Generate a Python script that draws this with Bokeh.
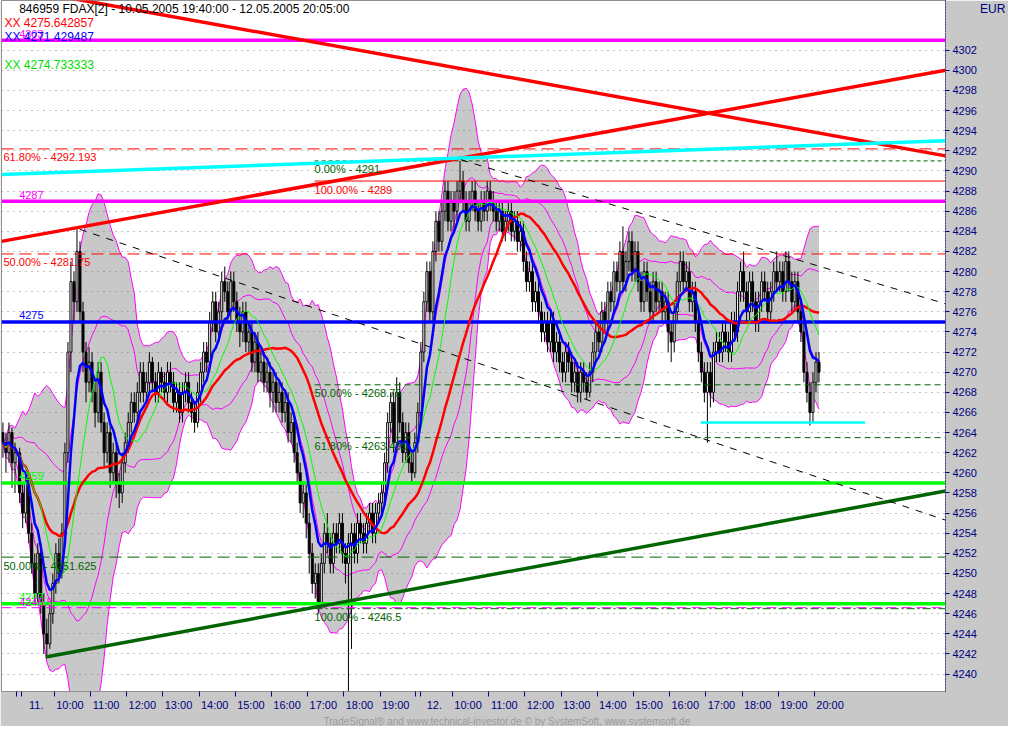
import json
import pandas as pd
from bokeh.plotting import figure
from bokeh.models import (ColumnDataSource, Label, FixedTicker, LinearAxis, Range1d,
                          Title, CustomJSTickFormatter)
from bokeh.embed import file_html
from bokeh.resources import INLINE

FONT = "Liberation Sans"
NAVY = "#000080"
DKGREEN = "#006400"

# ---------------- data (5-minute bars) ----------------
day10_close = [4263, 4262, 4264, 4261, 4262]
day10_high = [4265, 4264, 4265, 4264.5, 4263]
day10_low = [4261.5, 4260, 4261, 4258.5, 4258]
first_open = 4264

day11_close = [
    4258, 4256, 4259, 4254, 4251, 4248, 4252, 4247, 4244, 4243, 4246, 4249,
    4252, 4250, 4254, 4262, 4272, 4279, 4277, 4282, 4276, 4272, 4269, 4271,
    4268, 4266, 4270, 4265, 4262, 4264, 4260, 4262, 4259, 4258, 4261, 4263,
    4265, 4267, 4266, 4268, 4270, 4268, 4269, 4271, 4269, 4268, 4270, 4269,
    4268, 4270, 4269, 4267, 4268, 4266, 4268, 4269, 4267, 4266, 4265, 4268,
    4270, 4272, 4271, 4275, 4277, 4274, 4276, 4279, 4278, 4276, 4279, 4277,
    4275, 4274, 4276, 4273, 4274, 4271, 4273, 4270, 4271, 4269, 4270, 4268,
    4269, 4267, 4268, 4266, 4267, 4264, 4265, 4262, 4260, 4257, 4258, 4255,
    4252, 4249, 4250, 4247, 4251, 4254, 4253, 4251, 4254, 4253, 4255, 4252,
    4251, 4253, 4254, 4252, 4255, 4254, 4253, 4255, 4256, 4254, 4256, 4257,
    4258, 4261, 4265, 4267, 4263, 4268, 4265, 4262, 4264, 4261, 4260, 4263,
]
day11_high = [
    4262.5, 4259, 4260, 4259.5, 4255, 4252, 4253, 4253, 4248, 4245.5, 4247, 4250,
    4253, 4253.5, 4255, 4263, 4273, 4281, 4280, 4284.2, 4283, 4277, 4273, 4272.5,
    4272, 4269, 4271, 4271, 4266, 4265, 4265, 4263, 4263, 4260, 4262, 4264,
    4266, 4268, 4268, 4269, 4271, 4271, 4270, 4272, 4271.5, 4270, 4271, 4270.5,
    4270, 4271, 4271, 4270, 4269, 4269, 4269, 4270, 4270, 4268, 4267, 4269,
    4271, 4273, 4273, 4276, 4278, 4278, 4277, 4280, 4280.5, 4279, 4280, 4280,
    4278, 4276.5, 4277, 4277, 4275, 4275, 4274, 4274, 4272, 4272, 4271, 4271,
    4270, 4270, 4269, 4269, 4268, 4268, 4266, 4266, 4263, 4261, 4259, 4259,
    4256, 4253, 4251, 4251, 4252, 4255, 4256, 4254, 4255, 4255, 4256, 4256,
    4253, 4254, 4255, 4255, 4256, 4256, 4255, 4256, 4257, 4257, 4257, 4258,
    4259, 4262, 4266, 4268, 4268, 4269.5, 4269, 4266, 4265, 4265, 4262, 4264,
]
day11_low = [
    4257, 4254.5, 4255, 4253, 4250, 4247, 4247, 4246, 4242, 4241.7, 4242.5, 4245,
    4248, 4249, 4249.5, 4253, 4261, 4270, 4275, 4276, 4275, 4270, 4267, 4268,
    4267, 4264.5, 4265, 4264, 4260.5, 4261, 4258.5, 4259, 4257.5, 4256.5, 4257, 4260,
    4262, 4264, 4265, 4265, 4267, 4267, 4267, 4268, 4268, 4267, 4267, 4268,
    4267, 4267, 4268, 4266, 4266, 4265, 4265, 4267, 4266, 4265, 4264, 4264.5,
    4267, 4269, 4270, 4270, 4274, 4273, 4273, 4275, 4277, 4275, 4275, 4276,
    4274, 4272.5, 4273, 4272, 4272, 4270, 4270, 4269, 4269, 4268, 4268, 4266.5,
    4266, 4266, 4266, 4265, 4265, 4263, 4263, 4261, 4259, 4256, 4255.5, 4253.5,
    4250, 4248, 4247.5, 4246, 4246.5, 4250, 4252, 4250, 4250, 4252, 4252, 4251,
    4249, 4238.3, 4242.5, 4251, 4251, 4253, 4252, 4252, 4254, 4253, 4253, 4255,
    4256, 4257, 4260, 4264, 4262, 4262, 4264, 4261, 4261, 4260, 4259, 4259.5,
]
day12_close = [
    4266, 4272, 4277, 4280, 4276, 4282, 4285, 4283, 4286, 4288, 4285, 4287,
    4286, 4288, 4289, 4287, 4285, 4287, 4288, 4286, 4285, 4287, 4286, 4288,
    4287, 4286, 4285, 4286, 4284, 4285, 4286, 4284, 4285, 4283, 4284, 4281,
    4279, 4280, 4277, 4278, 4276, 4274, 4275, 4273, 4275, 4272, 4273, 4271,
    4270, 4272, 4271, 4269, 4270, 4268, 4270, 4269, 4268, 4270, 4272, 4274,
    4273, 4276, 4275, 4278, 4277, 4280, 4279, 4282, 4279, 4281, 4283, 4280,
    4282, 4279, 4277, 4280, 4278, 4276, 4279, 4277, 4278, 4276, 4277, 4274,
    4273, 4276, 4279, 4281, 4279, 4280, 4277, 4278, 4275, 4272, 4270, 4268,
    4270, 4268, 4272, 4273, 4272, 4274, 4273, 4272, 4275, 4274, 4278, 4280,
    4278, 4276, 4279, 4277, 4275, 4277, 4279, 4278, 4276, 4278, 4280, 4279,
    4280, 4278, 4281, 4279, 4277, 4279, 4276, 4274, 4270, 4268, 4266, 4269,
    4271, 4270,
]
day12_high = [
    4267, 4273, 4278, 4281, 4281, 4283, 4286, 4286, 4287, 4289, 4289, 4288,
    4288, 4289, 4291, 4290, 4288, 4288, 4289, 4289, 4287, 4288, 4288, 4289,
    4289, 4288, 4287, 4287, 4287, 4286, 4287, 4287, 4286, 4286, 4285, 4285,
    4282, 4281, 4281, 4279, 4279, 4277, 4276, 4276, 4276, 4276, 4274, 4274,
    4272, 4273, 4273, 4272, 4271, 4271, 4271, 4271, 4270, 4271, 4273, 4275,
    4275, 4277, 4277, 4279, 4279, 4281, 4281, 4283, 4284.5, 4282, 4284, 4284,
    4283, 4283, 4280, 4281, 4281, 4279, 4280, 4280, 4279, 4279, 4278, 4278,
    4275, 4277, 4280, 4282, 4282, 4281, 4281, 4279, 4279, 4276, 4273, 4271,
    4271, 4271, 4273, 4274, 4274, 4275, 4275, 4274, 4276, 4276, 4279, 4281,
    4282, 4279, 4280, 4280, 4278, 4278, 4280, 4280, 4279, 4279, 4281, 4282,
    4281, 4281, 4282, 4282, 4280, 4280, 4280, 4277, 4275, 4271, 4269, 4270,
    4272, 4272,
]
day12_low = [
    4262, 4265, 4271, 4276, 4275, 4275, 4281, 4282, 4282, 4285, 4284, 4284,
    4284, 4285, 4287, 4286, 4284, 4284, 4286, 4285, 4284, 4284, 4285, 4285,
    4286, 4285, 4284, 4284, 4283, 4283, 4284, 4283, 4283, 4282, 4282, 4280,
    4278, 4278, 4276, 4276, 4275, 4273, 4273, 4272, 4272, 4271, 4271, 4270,
    4269, 4269, 4270, 4268, 4268, 4267, 4267, 4268, 4267.3, 4267.5, 4269, 4271,
    4272, 4272, 4274, 4274, 4276, 4276, 4278, 4278, 4278, 4278, 4280, 4279,
    4279, 4278, 4276, 4276, 4277, 4275, 4275, 4276, 4276, 4275, 4275, 4272,
    4271, 4272, 4275, 4278, 4278, 4278, 4276, 4276, 4274, 4271, 4269, 4267,
    4263, 4266.5, 4267, 4271, 4271, 4271, 4272, 4271, 4271, 4273, 4273, 4277,
    4277, 4275, 4275, 4276, 4274, 4274, 4276, 4277, 4275, 4275, 4277, 4278,
    4278, 4277, 4277, 4278, 4276, 4276, 4275, 4273, 4269, 4267, 4264.7, 4265,
    4268, 4269,
]

# horizontal levels
hline_vals = [4303, 4287, 4275, 4259, 4247]
hline_colors = ["#ff00ff", "#ff00ff", "#0000ff", "#00ff00", "#00ff00"]
hline_texts = ["4303", "4287", "4275", "4259", "4247"]
support_val = 4265

# fibonacci levels
fib_vals = [4292.193, 4281.75, 4291, 4289, 4268.75, 4263.499, 4251.625, 4246.5]
fib_texts = ["61.80% - 4292.193", "50.00% - 4281.75", "0.00% - 4291", "100.00% - 4289",
             "50.00% - 4268.75", "61.80% - 4263.499", "50.00% - 4251.625", "100.00% - 4246.5"]
fib_start = [-0.46, -0.46, 8.19, 8.19, 8.19, 8.19, -0.46, 8.19]

# trend lines (x in session hours, y in price)
tl_x0 = [-0.46, -0.46, -0.46, 0.76, 1.70, 12.24]
tl_y0 = [4283.0, 4308.4, 4289.65, 4241.7, 4284.2, 4291.1]
tl_x1 = [25.62, 25.62, 25.62, 25.62, 25.62, 25.62]
tl_y1 = [4300.0, 4291.5, 4293.0, 4258.2, 4255.3, 4276.8]

# legend values
legend_vals = ["XX 4275.642857", "XX 4271.429487", "XX 4274.733333"]

# x axis
hour_ticks = [-0.05, 0.08, 1, 2, 3, 4, 5, 6, 7, 8, 9, 10, 10.97, 11.11,
              12, 13, 14, 15, 16, 17, 18, 19, 20, 21, 22]
hour_labels = ["11.", "10:00", "11:00", "12:00", "13:00", "14:00", "15:00", "16:00",
               "17:00", "18:00", "19:00", "12.", "10:00", "11:00", "12:00", "13:00",
               "14:00", "15:00", "16:00", "17:00", "18:00", "19:00", "20:00"]
hour_label_pos = [0.5] + [h + 0.43 for h in range(1, 11)] + [11.5] + [h + 0.43 for h in range(12, 23)]

# ---------------- derived ----------------
closes = day10_close + day11_close + day12_close
highs = day10_high + day11_high + day12_high
lows = day10_low + day11_low + day12_low
xs = ([-0.42 + i / 12 for i in range(len(day10_close))]
      + [i / 12 + 1 / 24 for i in range(len(day11_close))]
      + [11 + i / 12 + 1 / 24 for i in range(len(day12_close))])
opens = [first_open] + closes[:-1]
up = [c >= o for o, c in zip(opens, closes)]

s = pd.Series(closes, dtype=float)
blue = s.ewm(span=8, adjust=False).mean()
green = s.rolling(13, min_periods=1).mean()
red = s.rolling(30, min_periods=1).mean()
mid = s.rolling(20, min_periods=1).mean()
sd = s.rolling(20, min_periods=1).std(ddof=0).fillna(0)

src = ColumnDataSource(dict(
    x=xs, open=opens, close=closes, high=highs, low=lows,
    top=[max(o, c) for o, c in zip(opens, closes)],
    bottom=[min(o, c) for o, c in zip(opens, closes)],
    fill=["white" if u else "black" for u in up],
    blue=blue, green=green, red=red,
    upper=mid + 2 * sd, lower=mid - 2 * sd,
    iup=mid + 1 * sd, ilo=mid - 1 * sd,
))

X0, X1 = -0.46, 25.62
Y0, Y1 = 4238.27, 4306.94


def px(xp):
    return (xp - 17) / 37.0


def py(yp):
    return 4302 - (yp - 50) / 10.12


p = figure(width=1008, height=726, x_range=Range1d(X0, X1), y_range=Range1d(Y0, Y1),
           output_backend="svg", toolbar_location=None, y_axis_location="right",
           x_axis_location=None)
p.min_border_top = 0
p.min_border_left = 1
p.min_border_right = 58
p.background_fill_color = "white"
p.border_fill_color = "#c8c8c8"
p.outline_line_color = "#909090"

# y axis
yt = FixedTicker(ticks=list(range(4240, 4304, 2)))
ya = p.yaxis[0]
ya.ticker = yt
ya.axis_line_dash = "1 2"
ya.axis_line_color = NAVY
ya.major_tick_out = 4
ya.major_tick_in = 0
ya.minor_tick_line_color = None
ya.major_tick_line_color = NAVY
ya.major_label_text_color = NAVY
ya.major_label_text_font = FONT
ya.major_label_text_font_size = "11px"
ya.major_label_standoff = 3
ya.axis_label = "\nEUR"
ya.axis_label_orientation = "horizontal"
ya.axis_label_align = "end"
ya.axis_label_standoff = 0
ya.axis_label_text_color = NAVY
ya.axis_label_text_font = FONT
ya.axis_label_text_font_size = "12px"
ya.axis_label_text_font_style = "normal"
p.ygrid.ticker = yt
p.ygrid.grid_line_color = "#808080"
p.ygrid.grid_line_dash = "1 5"
p.xgrid.visible = False

# x axes: ticks only, then labels
ax_t = LinearAxis(ticker=FixedTicker(ticks=hour_ticks),
                  formatter=CustomJSTickFormatter(code="return '';"))
ax_t.major_tick_out = 5
ax_t.major_tick_in = 0
ax_t.minor_tick_line_color = None
ax_t.major_tick_line_color = NAVY
ax_t.axis_line_color = "#909090"
ax_t.major_label_standoff = 0
ax_t.major_label_text_font_size = "1px"
p.add_layout(ax_t, "below")

lab_map = {str(round(v * 100)): t for v, t in zip(hour_label_pos, hour_labels)}
ax_l = LinearAxis(ticker=FixedTicker(ticks=hour_label_pos),
                  formatter=CustomJSTickFormatter(
                      code="const m = %s; const k = String(Math.round(tick*100)); return (k in m) ? m[k] : '';"
                      % json.dumps(lab_map)))
ax_l.major_tick_out = 0
ax_l.major_tick_in = 0
ax_l.minor_tick_line_color = None
ax_l.major_tick_line_color = None
ax_l.axis_line_color = None
ax_l.major_label_text_color = NAVY
ax_l.major_label_text_font = FONT
ax_l.major_label_text_font_size = "11px"
ax_l.major_label_standoff = 2
p.add_layout(ax_l, "below")

p.add_layout(Title(text="TradeSignal\u00ae and www.technical-investor.de \u00a9 by  SystemSoft, www.systemsoft.de",
                   align="left", offset=322, text_color="#9a9a9a", text_font=FONT,
                   text_font_size="10px", text_font_style="normal", standoff=0), "below")

# bollinger band
band = p.varea(x="x", y1="lower", y2="upper", source=src, fill_color="#c8c8c8")
band.level = "image"
p.line("x", "upper", source=src, line_color="#ff00ff", line_width=1)
p.line("x", "lower", source=src, line_color="#ff00ff", line_width=1)
p.line("x", "iup", source=src, line_color="#ff00ff", line_width=1)
p.line("x", "ilo", source=src, line_color="#ff00ff", line_width=1)

# candles
p.segment(x0="x", y0="low", x1="x", y1="high", source=src, line_color="black", line_width=1)
p.vbar(x="x", width=0.055, top="top", bottom="bottom", source=src,
       fill_color="fill", line_color="black", line_width=1)

# fib lines
fib_colors = ["#ff0000", "#ff0000", DKGREEN, "#ff0000", DKGREEN, DKGREEN, DKGREEN, DKGREEN]
fib_dash = ["12 6", "12 6", "4 3", "solid", "6 4", "6 4", "12 6", "8 3 2 3"]
for v, st, col, dsh in zip(fib_vals, fib_start, fib_colors, fib_dash):
    p.segment(x0=[st], y0=[v], x1=[X1], y1=[v], line_color=col, line_width=1, line_dash=dsh)

# horizontal lines
p.segment(x0=[X0] * len(hline_vals), y0=hline_vals, x1=[X1] * len(hline_vals), y1=hline_vals,
          line_color=hline_colors, line_width=3.5)
p.segment(x0=[X0], y0=[4246.6], x1=[X1], y1=[4246.6], line_color="#ff00ff", line_width=1,
          line_dash="10 5")
p.segment(x0=[18.86], y0=[support_val], x1=[23.4], y1=[support_val], line_color="#00ffff", line_width=2.5)

# trend lines
tl_colors = ["#ff0000", "#ff0000", "#00ffff", DKGREEN, "black", "black"]
tl_width = [3.5, 3.5, 3.5, 3.5, 1, 1]
tl_dash = ["solid", "solid", "solid", "solid", "7 7", "7 7"]
for a, b, c, d, col, w, dsh in zip(tl_x0, tl_y0, tl_x1, tl_y1, tl_colors, tl_width, tl_dash):
    p.segment(x0=[a], y0=[b], x1=[c], y1=[d], line_color=col, line_width=w, line_dash=dsh)

# moving averages
p.line("x", "red", source=src, line_color="#ff0000", line_width=2.5)
p.line("x", "green", source=src, line_color="#00ff00", line_width=1)
p.line("x", "blue", source=src, line_color="#0000ff", line_width=2.5)


def lab(text, x, y, color, baseline="top", size="11px", align="left"):
    p.add_layout(Label(x=x, y=y, text=text, text_color=color, text_font=FONT,
                       text_font_size=size, text_baseline=baseline, text_align=align))


# fib labels
for v, st, col, t in zip(fib_vals, fib_start, fib_colors, fib_texts):
    xx = px(2) if st < 0 else px(320)
    lab(t, xx, v - 0.25, col)

# hline labels
for v, col, t in zip(hline_vals, hline_colors, hline_texts):
    lab(t, px(18), v + 0.25, col, baseline="bottom")
lab("4246.5", px(18), 4246.8, "#ff00ff", baseline="bottom")

# header legend
lab("846959  FDAX[2] - 10.05.2005 19:40:00 - 12.05.2005 20:05:00", px(18), py(2), "black", size="12px")
lab(legend_vals[0], px(3), py(16), "#ff0000", size="12px")
lab(legend_vals[1], px(3), py(30), "#0000ff", size="12px")
lab(legend_vals[2], px(3), py(58), "#00dd00", size="12px")

open("out.html", "w").write(file_html(p, INLINE))
